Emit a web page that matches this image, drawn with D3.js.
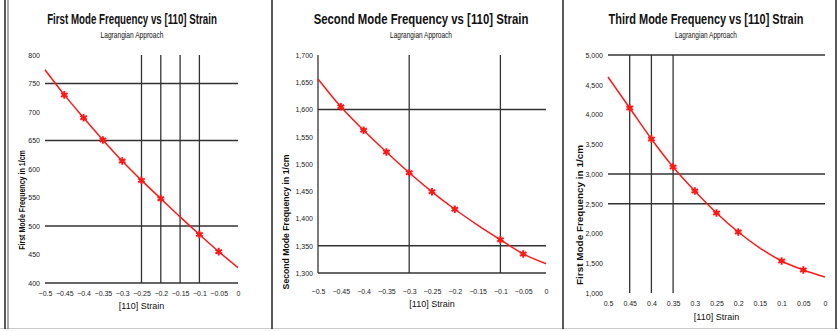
<!DOCTYPE html>
<html><head><meta charset="utf-8">
<script src="https://cdn.jsdelivr.net/npm/d3@7"></script>
<style>
body{margin:0;background:#fff;}
text{font-family:"Liberation Sans Narrow","Liberation Sans",Arial,sans-serif;}
</style>
</head><body>
<svg id="c" width="838" height="331"></svg>
<script>
// ---- data ----
const strainNeg = [-0.5,-0.45,-0.4,-0.35,-0.3,-0.25,-0.2,-0.15,-0.1,-0.05,0];
const strainPos = [0.5,0.45,0.4,0.35,0.3,0.25,0.2,0.15,0.1,0.05,0];
const markerIdx = [1,2,3,4,5,6,8,9];

const mode1Freq = [774,730,690,651,614,580,548,516,485,455,427];
const mode2Freq = [1656,1605,1562,1522,1484,1449,1417,1388,1361,1335,1317];
const mode3Freq = [4630,4109,3588,3118,2714,2345,2025,1756,1538,1387,1269];

const mode1Ticks = [800,750,700,650,600,550,500,450,400];
const mode2Ticks = [1700,1650,1600,1550,1500,1450,1400,1350,1300];
const mode3Ticks = [5000,4500,4000,3500,3000,2500,2000,1500,1000];

const titles = ["First Mode Frequency vs [110] Strain","Second Mode Frequency vs [110] Strain","Third Mode Frequency vs [110] Strain"];
const subtitle = "Lagrangian Approach";
const yTitles = ["First Mode Frequency in 1/cm","Second Mode Frequency in 1/cm","First Mode Frequency in 1/cm"];
const xTitle = "[110] Strain";

const hGrid = [[750,650,500,400],[1600,1350,1300],[5000,3000,2500]];
const vGrid = [[-0.25,-0.2,-0.15,-0.1],[-0.5,-0.3,-0.1],[0.45,0.4,0.35]];

// ---- layout ----
const panels = [
  {x:strainNeg, y:mode1Freq, ticks:mode1Ticks, xr:[45,238], yr:[283,55], cx:132, titleW:170, subW:63, xLabY:297, xTitY:309, yTitX:25, yTitC:200, yTitW:100},
  {x:strainNeg, y:mode2Freq, ticks:mode2Ticks, xr:[318,546], yr:[273,55], cx:421, titleW:215, subW:62, xLabY:295, xTitY:307, yTitX:289, yTitC:222, yTitW:135},
  {x:strainPos, y:mode3Freq, ticks:mode3Ticks, xr:[608,825], yr:[293,55], cx:706, titleW:195, subW:62, xLabY:307, xTitY:320, yTitX:583, yTitC:215, yTitW:140}
];

const svg = d3.select("#c");

// frames
svg.append("line").attr("x1",0).attr("x2",838).attr("y1",328.5).attr("y2",328.5).attr("stroke","#ccc").attr("stroke-width",1);
[[5,272],[563,836]].forEach(([a,b])=>{
  svg.append("line").attr("x1",a).attr("x2",a).attr("y1",0).attr("y2",329).attr("stroke","#222").attr("stroke-width",1.5);
  svg.append("line").attr("x1",b).attr("x2",b).attr("y1",0).attr("y2",329).attr("stroke","#222").attr("stroke-width",1.5);
});
svg.append("line").attr("x1",8).attr("x2",8).attr("y1",0).attr("y2",329).attr("stroke","#555").attr("stroke-width",1);

// horizontally squeezed text helper
function squeezed(g, x, y, txt, size, targetW, weight, rotate){
  const t = g.append("text").attr("text-anchor","middle").attr("font-size",size)
    .attr("font-weight",weight||"normal").attr("fill","#111").text(txt);
  const w = t.node().getComputedTextLength() || targetW;
  const s = targetW / w;
  if (rotate) t.attr("transform",`translate(${x},${y}) rotate(-90) scale(${s},1)`);
  else t.attr("transform",`translate(${x},${y}) scale(${s},1)`);
  return t;
}

panels.forEach((p,i)=>{
  const g = svg.append("g");
  const dom = p.x[0] < 0 ? [-0.5,0] : [0.5,0];
  const xs = d3.scaleLinear().domain(dom).range(p.xr);
  const ys = d3.scaleLinear().domain([p.ticks[p.ticks.length-1], p.ticks[0]]).range(p.yr);

  // title
  squeezed(g, p.cx, 24, titles[i], 15, p.titleW, "bold");
  squeezed(g, p.cx, 38, subtitle, 9, p.subW, "normal");

  // gridlines
  hGrid[i].forEach(v=>{
    g.append("line").attr("x1",p.xr[0]).attr("x2",p.xr[1]).attr("y1",ys(v)).attr("y2",ys(v))
      .attr("stroke","#333").attr("stroke-width",1.3);
  });
  vGrid[i].forEach(v=>{
    g.append("line").attr("x1",xs(v)).attr("x2",xs(v)).attr("y1",p.yr[1]).attr("y2",p.yr[0])
      .attr("stroke","#333").attr("stroke-width",1.3);
  });

  // y tick labels
  const yAxis = d3.axisLeft(ys).tickValues(p.ticks).tickSize(0).tickPadding(5)
    .tickFormat(d3.format(","));
  const ya = g.append("g").attr("transform",`translate(${p.xr[0]},0)`).call(yAxis);
  ya.select(".domain").remove();
  ya.selectAll("text").attr("font-size",7).attr("fill","#222").style("font-family",'"Liberation Sans Narrow",Arial,sans-serif');

  // x tick labels
  const xAxis = d3.axisBottom(xs).tickValues(p.x).tickSize(0).tickPadding(0).tickFormat(d3.format(""));
  const xa = g.append("g").attr("transform",`translate(0,${p.xLabY-6})`).call(xAxis);
  xa.select(".domain").remove();
  xa.selectAll("text").attr("font-size",7).attr("fill","#222").style("font-family",'"Liberation Sans Narrow",Arial,sans-serif');

  // axis titles
  g.append("text").attr("x",(p.xr[0]+p.xr[1])/2).attr("y",p.xTitY).attr("text-anchor","middle")
    .attr("font-size",9).attr("fill","#111").text(xTitle);
  squeezed(g, p.yTitX, p.yTitC, yTitles[i], 9, p.yTitW, "bold", true);

  // line
  const pts = p.x.map((xv,k)=>[xv,p.y[k]]);
  g.append("path").datum(pts)
    .attr("d",d3.line().x(d=>xs(d[0])).y(d=>ys(d[1])).curve(d3.curveMonotoneX))
    .attr("fill","none").attr("stroke","#ff1a1a").attr("stroke-width",1.5);

  // markers
  const sym = d3.symbol().type(d3.symbolAsterisk).size(40);
  g.selectAll("path.m").data(markerIdx.map(k=>pts[k])).enter().append("path")
    .attr("class","m").attr("d",sym)
    .attr("transform",d=>`translate(${xs(d[0])},${ys(d[1])})`)
    .attr("fill","none").attr("stroke","#ff1a1a").attr("stroke-width",2);
  g.selectAll("circle.m").data(markerIdx.map(k=>pts[k])).enter().append("circle")
    .attr("cx",d=>xs(d[0])).attr("cy",d=>ys(d[1])).attr("r",2).attr("fill","#ff1a1a");
});
</script>
</body></html>
